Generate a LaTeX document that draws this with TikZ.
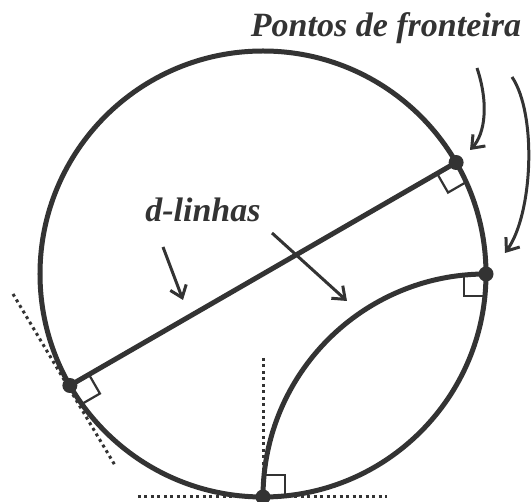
\documentclass[tikz,border=0pt]{standalone}
\usepackage{fontspec}
\setmainfont{Liberation Serif}
\usetikzlibrary{arrows.meta}
\definecolor{ink}{HTML}{333333}
\tikzset{
  boundary/.style={draw=ink, line width=5pt},
  dline/.style={draw=ink, line width=5pt},
  rightmark/.style={draw=ink, line width=2.2pt},
  tangent/.style={draw=ink, line width=3pt, dash pattern=on 3pt off 3.5pt},
  pointer/.style={draw=ink, line width=3pt, -{Straight Barb[length=11pt,width=17pt]}},
  label/.style={text=ink, font=\fontsize{34}{40}\selectfont\bfseries\itshape, anchor=base, inner sep=0pt},
  idealpt/.style={fill=ink}
}
\begin{document}
\begin{tikzpicture}[x=1pt, y=1pt]
  \useasboundingbox (-263,-228) rectangle (269,274);
  \coordinate (O) at (0,0);
  \coordinate (A) at (210:223);
  \coordinate (B) at (30:223);
  \coordinate (C) at (0:223);
  \coordinate (D) at (-90:223);

  % tangents
  \coordinate (ta1) at (-250,-20);
  \coordinate (ta2) at (-147,-193);
  \coordinate (td1) at (0,-84);
  \coordinate (td2) at (-125,-223);
  \coordinate (td3) at (124,-223);
  \draw[tangent] (ta1) -- (ta2);
  \draw[tangent] (td1) -- (D);
  \draw[tangent] (td2) -- (td3);

  \draw[boundary] (O) circle (223);
  \draw[dline] (A) -- (B);
  \draw[dline] (C) arc[start angle=90, end angle=180, radius=223];

  % right angles
  \draw[rightmark] (B) ++(210:22) -- ++(-60:22) -- ++(30:22);
  \draw[rightmark] (A) ++(30:22) -- ++(-60:22) -- ++(210:22);
  \draw[rightmark] (C) ++(180:22) -- ++(-90:22) -- ++(0:22);
  \draw[rightmark] (D) ++(90:22) -- ++(0:22) -- ++(-90:22);

  \foreach \p in {A,B,C,D}
    \fill[idealpt] (\p) circle (7.5);

  \node[label] (pontos) at (123,237) {Pontos de fronteira};
  \node[label] (dlinhas) at (-60,52) {d-linhas};

  \coordinate (p1) at (214,206);
  \coordinate (p1e) at (207,124);
  \coordinate (p2) at (249,197);
  \coordinate (p2e) at (242,21);
  \draw[pointer] (p1) .. controls (226,170) and (222,140) .. (p1e);
  \draw[pointer] (p2) .. controls (274,160) and (270,60) .. (p2e);

  \coordinate (d1) at (-100,27);
  \coordinate (d1e) at (-80,-26);
  \coordinate (d2) at (9,41);
  \coordinate (d2e) at (84,-27);
  \draw[pointer] (d1) -- (d1e);
  \draw[pointer] (d2) -- (d2e);
\end{tikzpicture}
\end{document}
